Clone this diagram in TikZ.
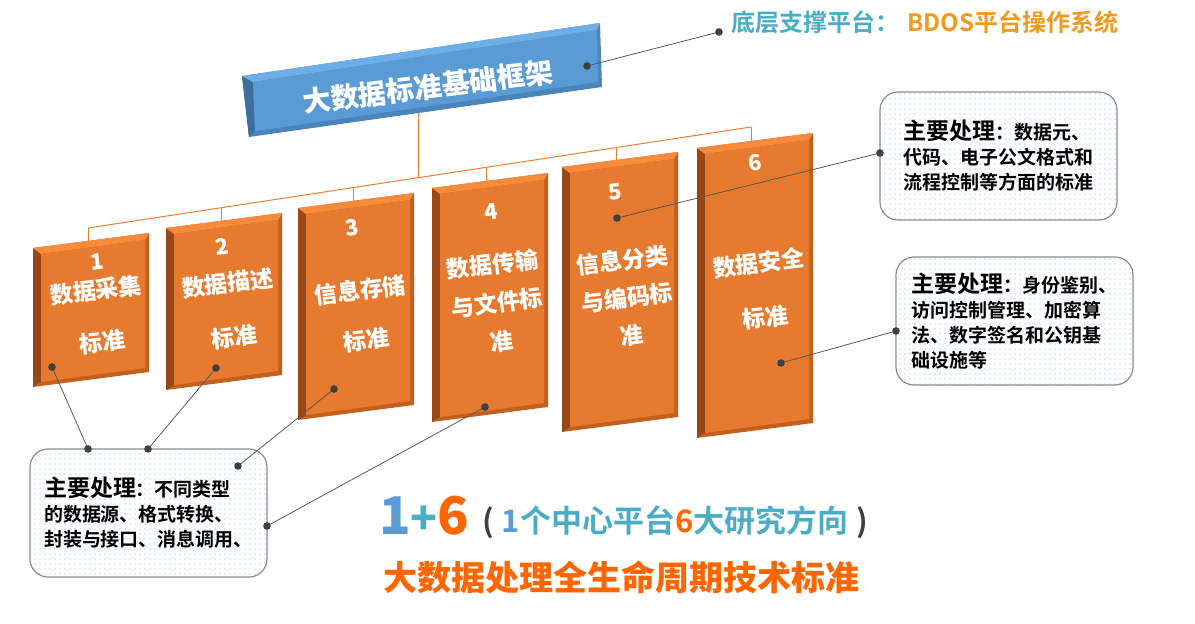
\documentclass[tikz,border=0pt]{standalone}
\usepackage{fontspec}
\setmainfont{Noto Sans CJK SC}[BoldFont={Noto Sans CJK SC Bold}]
\newfontfamily\heavyfont{Noto Sans CJK SC Black}
\usetikzlibrary{patterns.meta}

\definecolor{boxface}{HTML}{E67A2F}
\definecolor{boxside}{HTML}{984818}
\definecolor{boxtop}{HTML}{F78B3B}
\definecolor{boxedge}{HTML}{C4601E}
\definecolor{barface}{HTML}{5B9BD5}
\definecolor{barside}{HTML}{3E6E9C}
\definecolor{bartop}{HTML}{6EAEE6}
\definecolor{barbottom}{HTML}{4A84BA}
\definecolor{busline}{HTML}{ED7D31}
\definecolor{leader}{HTML}{595959}
\definecolor{dotgray}{HTML}{404040}
\definecolor{tealtxt}{HTML}{4BACC6}
\definecolor{ambertxt}{HTML}{F39A1E}
\definecolor{bluetxt}{HTML}{5B9BD5}
\definecolor{hottxt}{HTML}{FF6600}

\tikzset{
  boxlabel/.style={text=white, font=\heavyfont\fontsize{23}{36}\selectfont, align=center, rotate=7, inner sep=0pt},
  boxnum/.style={text=white, font=\heavyfont\fontsize{22}{22}\selectfont, rotate=7, inner sep=0pt},
  callout/.style={draw=gray!90, line width=1.2pt, rounded corners=18pt,
    minimum width=237pt, minimum height=128pt, preaction={fill=white},
    pattern={Dots[distance=5pt, radius=0.7pt]}, pattern color=bluetxt!80,
    align=left, font=\bfseries\fontsize{19}{25}\selectfont},
  leaderline/.style={leader, line width=0.8pt},
  pin/.style={fill=dotgray}
}

\begin{document}
\begin{tikzpicture}[x=1pt,y=-1pt]
  \useasboundingbox (0,0) rectangle (1195,624);

  % title bar
  \fill[barbottom] (242,76) -- (600,23) -- (602,87) -- (249,137) -- cycle;
  \fill[barside] (242,76) -- (253,82) -- (255,131) -- (249,137) -- cycle;
  \fill[bartop] (242,76) -- (600,23) -- (597,30) -- (253,82) -- cycle;
  \fill[barface] (253,82) -- (597,30) -- (598,82) -- (255,131) -- cycle;
  \node[text=white, font=\heavyfont\fontsize{28}{28}\selectfont, rotate=7, inner sep=0pt] (title) at (428,87) {大数据标准基础框架};

  % bus
  \coordinate (barfoot) at (418,113);
  \coordinate (jc) at (418,178);
  \foreach \i/\sx/\by/\ty in {1/88/228/241,2/221/208/221,3/353/188/201,4/486/168/181,5/616/148/160,6/751/127/141} {
    \coordinate (j\i) at (\sx,\by);
    \coordinate (t\i) at (\sx,\ty);
  }
  \draw[busline, line width=1pt] (barfoot) -- (jc);
  \draw[busline, line width=1pt] (j1) -- (j6);
  \foreach \i in {1,...,6}
    \draw[busline, line width=1pt] (j\i) -- (t\i);

  % standard boxes
  \foreach \x/\y/\h in {33/248/139,166/228/162,298/208/212,432/188/234,562/167/265,697/148/290} {
    \fill[boxedge] (\x,\y) -- (\x+116,\y-15) -- (\x+116,\y+\h-15) -- (\x,\y+\h) -- cycle;
    \fill[boxside] (\x,\y) -- (\x+8,\y+6) -- (\x+8,\y+\h-5) -- (\x,\y+\h) -- cycle;
    \fill[boxtop] (\x,\y) -- (\x+116,\y-15) -- (\x+112,\y-8) -- (\x+8,\y+6) -- cycle;
    \fill[boxface] (\x+8,\y+6) -- (\x+112,\y-8) -- (\x+112,\y+\h-19) -- (\x+8,\y+\h-5) -- cycle;
  }
  \foreach \n/\nx/\ny in {1/97/262,2/222/247,3/352/228,4/491/212,5/615/192,6/755/163}
    \node[boxnum] (num\n) at (\nx,\ny) {\n};
  \node[boxlabel] (lab1) at (99,316) {数据采集\\[16pt]标准};
  \node[boxlabel] (lab2) at (231,310) {数据描述\\[18pt]标准};
  \node[boxlabel] (lab3) at (363,315) {信息存储\\[14pt]标准};
  \node[boxlabel] (lab4) at (497,303) {数据传输\\[3pt]与文件标\\[3pt]准};
  \node[boxlabel] (lab5) at (627,298) {信息分类\\[2pt]与编码标\\[2pt]准};
  \node[boxlabel] (lab6) at (762,290) {数据安全\\[19pt]标准};

  % callouts
  \node[callout] (call1) at (148.5,513) {{\fontsize{23}{25}\selectfont 主要处理}：不同类型\\的数据源、格式转换、\\封装与接口、消息调用、};
  \node[callout] (call2) at (998.5,156) {{\fontsize{23}{25}\selectfont 主要处理}：数据元、\\代码、电子公文格式和\\流程控制等方面的标准};
  \node[callout] (call3) at (1014.5,321) {{\fontsize{23}{25}\selectfont 主要处理}：身份鉴别、\\访问控制管理、加密算\\法、数字签名和公钥基\\础设施等};

  % leaders
  \coordinate (d1) at (52,367);  \coordinate (p1) at (88,449);
  \coordinate (d2) at (216,368); \coordinate (p2) at (148,449);
  \coordinate (d3) at (334,389); \coordinate (p3) at (238,466);
  \coordinate (d4) at (485,407); \coordinate (p4) at (267,526);
  \coordinate (d5) at (617,218); \coordinate (p5) at (880,153);
  \coordinate (d6) at (781,363); \coordinate (p6) at (896,331);
  \coordinate (dt) at (587,66);  \coordinate (pt) at (719,32);
  \foreach \i in {1,2,3,4,5,6,t} {
    \draw[leaderline] (d\i) -- (p\i);
    \fill[pin] (d\i) circle (3.8pt);
    \fill[pin] (p\i) circle (3.8pt);
  }

  % texts
  \node[anchor=west, inner sep=0pt, font=\bfseries\fontsize{24}{24}\selectfont] (base) at (731,22)
    {\textcolor{tealtxt}{底层支撑平台：}\hspace{8pt}\textcolor{ambertxt}{BDOS平台操作系统}};
  \node[anchor=west, inner sep=0pt, font=\heavyfont\fontsize{52}{52}\selectfont] (onesix) at (379,516)
    {\textcolor{bluetxt}{1}\textcolor{tealtxt}{\fontsize{44}{44}\selectfont+}\textcolor{hottxt}{6}};
  \node[anchor=west, inner sep=0pt, font=\bfseries\fontsize{31}{31}\selectfont] (motto) at (482,522)
    {\textcolor{dotgray}{(}\hspace{8pt}\textcolor{bluetxt}{1}\textcolor{tealtxt}{个中心平台}\textcolor{hottxt}{6}\textcolor{tealtxt}{大研究方向}\hspace{8pt}\textcolor{dotgray}{)}};
  \node[anchor=west, inner sep=0pt, font=\heavyfont\fontsize{34}{34}\selectfont, text=hottxt] (life) at (383,577)
    {大数据处理全生命周期技术标准};
\end{tikzpicture}
\end{document}
